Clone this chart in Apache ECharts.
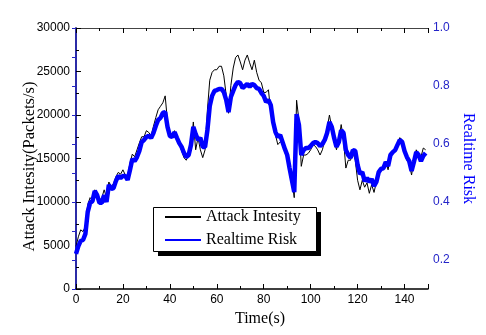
<!DOCTYPE html>
<html>
<head>
<meta charset="utf-8">
<script src="https://cdn.jsdelivr.net/npm/echarts@6/dist/echarts.min.js"></script>
<style>
html, body { margin: 0; padding: 0; background: #fff; }
#chart { width: 486px; height: 335px; }
</style>
</head>
<body>
<div id="chart"></div>
<script>
// attack intensity (packets/s), one value per second from t=0
var intensity = [
    4900, 6000, 6800, 6600, 7200, 9700, 10500, 10200, 11400, 11000,
    10200, 10500, 11400, 10500, 12300, 11800, 12100, 12900, 13400, 13200,
    13700, 13100, 13000, 14500, 15500, 15200, 16000, 16800, 17500, 17500,
    18200, 18000, 17600, 18700, 19700, 20600, 21000, 21400, 22200, 19200,
    17400, 17700, 18200, 17100, 16600, 15900, 15100, 14800, 15500, 16400,
    19200, 16000, 17400, 16000, 15100, 16000, 20600, 24000, 24900, 25200,
    25200, 25600, 25600, 24500, 22300, 20200, 23400, 25400, 26600, 26900,
    26100, 25200, 26300, 26900, 26000, 25200, 26300, 24900, 24000, 23700,
    22600, 22600, 22900, 20300, 18900, 17700, 16600, 16900, 16900, 15700,
    15100, 13400, 12500, 10500, 21700, 19400, 14100, 15400, 15400, 15600,
    16000, 16600, 16400, 16000, 15400, 16000, 17100, 18500, 20000, 18500,
    17100, 16000, 17100, 18900, 17100, 13900, 14800, 14800, 15700, 14800,
    12500, 11400, 12500, 11700, 12200, 11000, 12000, 11100, 12300, 13400,
    13700, 13700, 14600, 13700, 15300, 15600, 16000, 16600, 17400, 17100,
    15700, 14800, 14400, 13100, 14800, 16000, 15400, 15200, 16200, 16000
]
// realtime risk, same time steps
var risk = [
    0.221, 0.248, 0.266, 0.269, 0.290, 0.366, 0.397, 0.403, 0.438, 0.424,
    0.397, 0.397, 0.424, 0.400, 0.459, 0.445, 0.448, 0.472, 0.490, 0.483,
    0.490, 0.490, 0.476, 0.510, 0.548, 0.541, 0.555, 0.576, 0.607, 0.614,
    0.624, 0.628, 0.621, 0.638, 0.662, 0.683, 0.690, 0.707, 0.710, 0.659,
    0.628, 0.624, 0.641, 0.621, 0.603, 0.590, 0.569, 0.555, 0.562, 0.597,
    0.659, 0.634, 0.614, 0.621, 0.590, 0.590, 0.648, 0.731, 0.766, 0.783,
    0.786, 0.790, 0.790, 0.779, 0.752, 0.710, 0.762, 0.783, 0.803, 0.814,
    0.810, 0.793, 0.800, 0.807, 0.797, 0.807, 0.803, 0.793, 0.790, 0.776,
    0.766, 0.745, 0.752, 0.734, 0.676, 0.641, 0.624, 0.631, 0.607, 0.583,
    0.562, 0.517, 0.476, 0.434, 0.703, 0.666, 0.562, 0.579, 0.586, 0.586,
    0.593, 0.603, 0.607, 0.603, 0.593, 0.600, 0.614, 0.638, 0.676, 0.659,
    0.621, 0.590, 0.607, 0.648, 0.638, 0.579, 0.562, 0.552, 0.579, 0.576,
    0.528, 0.497, 0.503, 0.472, 0.483, 0.469, 0.479, 0.455, 0.469, 0.503,
    0.514, 0.517, 0.538, 0.524, 0.562, 0.572, 0.579, 0.597, 0.614, 0.607,
    0.576, 0.555, 0.541, 0.507, 0.538, 0.572, 0.562, 0.541, 0.559, 0.569
]
var xTicks = [0, 150, 20]
var leftTicks = [0, 30000, 5000]
var rightTicks = [0.1, 1.0, 0.1]

var sans = 'Liberation Sans'
var serif = 'Liberation Serif'
var blue = '#0000ff'
var axisBlue = '#2424c8'

var blackData = []
var blueData = []
intensity.forEach((v, i) => {
    blackData.push([i, v])
    blueData.push([i, risk[i]])
})

var tickIn = { show: true, inside: true, length: 5, lineStyle: { color: '#000' } }
var minorIn = { show: true, splitNumber: 2, length: 3, lineStyle: { color: '#000' } }

// legend frame with the hard drop shadow
var box = { x: 153, y: 207, w: 163, h: 44, shadow: 5 }

var dom = document.getElementById('chart')
var chart = echarts.init(dom, null, { renderer: 'canvas' })
var option = {
    animation: false,
    backgroundColor: '#fff',
    grid: { left: 76, right: 58, top: 28, bottom: 46, containLabel: false },
    graphic: [{
        type: 'rect',
        z: 3,
        shape: { x: box.x + box.shadow, y: box.y + box.shadow, width: box.w, height: box.h },
        style: { fill: '#000' }
    }, {
        type: 'rect',
        z: 3,
        shape: { x: box.x + 0.5, y: box.y + 0.5, width: box.w, height: box.h },
        style: { fill: '#fff', stroke: '#000', lineWidth: 1 }
    }],
    legend: {
        orient: 'vertical',
        left: box.x,
        top: box.y,
        padding: [2, 12, 3, 11],
        itemGap: 7,
        itemWidth: 36,
        itemHeight: 16,
        z: 5,
        itemStyle: { color: 'rgba(0,0,0,0)', borderWidth: 0, opacity: 0 },
        textStyle: { fontFamily: serif, fontSize: 16, color: '#000' },
        data: ['Attack Intesity', 'Realtime Risk']
    },
    xAxis: [{
        type: 'value',
        min: xTicks[0], max: xTicks[1], interval: xTicks[2],
        name: 'Time(s)',
        nameLocation: 'middle',
        nameGap: 22,
        nameMoveOverlap: false,
        nameTextStyle: { fontFamily: serif, fontSize: 16, color: '#000', padding: [0, 0, 0, 16] },
        axisLine: { lineStyle: { color: '#000', width: 1.5 } },
        axisTick: tickIn,
        minorTick: minorIn,
        axisLabel: { showMaxLabel: false, fontFamily: sans, fontSize: 12, color: '#000', margin: 5 },
        splitLine: { show: false }
    }, {
        type: 'value',
        position: 'top',
        min: xTicks[0], max: xTicks[1], interval: xTicks[2],
        axisLine: { lineStyle: { color: '#444', width: 1.2 } },
        axisTick: tickIn,
        minorTick: minorIn,
        axisLabel: { show: false },
        splitLine: { show: false }
    }],
    yAxis: [{
        type: 'value',
        min: leftTicks[0], max: leftTicks[1], interval: leftTicks[2],
        name: 'Attack Intesity(Packets/s)',
        nameLocation: 'middle',
        nameGap: 38,
        nameMoveOverlap: false,
        nameTextStyle: { fontFamily: serif, fontSize: 16.5, color: '#000', padding: [0, 16, 0, 0] },
        axisLine: { show: true, lineStyle: { color: '#000', width: 1.5 } },
        axisTick: tickIn,
        minorTick: minorIn,
        axisLabel: {
            fontFamily: sans, fontSize: 12, color: '#000', margin: 6,
            formatter: v => String(v)
        },
        splitLine: { show: false }
    }, {
        type: 'value',
        position: 'right',
        alignTicks: false,
        min: rightTicks[0], max: rightTicks[1], interval: rightTicks[2],
        name: 'Realtime Risk',
        nameLocation: 'middle',
        nameRotate: -90,
        nameGap: 32,
        nameMoveOverlap: false,
        nameTextStyle: { fontFamily: serif, fontSize: 16, color: blue },
        axisLine: { show: true, lineStyle: { color: axisBlue, width: 1.5 } },
        axisTick: { show: true, inside: true, length: 4, lineStyle: { color: axisBlue } },
        axisLabel: {
            fontFamily: sans, fontSize: 12, color: axisBlue, margin: 5,
            formatter: function (v) {
                return Math.round(v * 10) % 2 === 0 ? v.toFixed(1) : ''
            }
        },
        splitLine: { show: false }
    }],
    series: [{
        name: 'Attack Intesity',
        type: 'line',
        xAxisIndex: 0,
        yAxisIndex: 0,
        symbol: 'none',
        lineStyle: { color: '#000', width: 1 },
        itemStyle: { color: '#000' },
        data: blackData,
        z: 2
    }, {
        name: 'Realtime Risk',
        type: 'line',
        xAxisIndex: 0,
        yAxisIndex: 1,
        symbol: 'none',
        lineStyle: { color: blue, width: 4.5 },
        itemStyle: { color: blue },
        data: blueData,
        z: 2
    }]
}
chart.setOption(option)
</script>
</body>
</html>
